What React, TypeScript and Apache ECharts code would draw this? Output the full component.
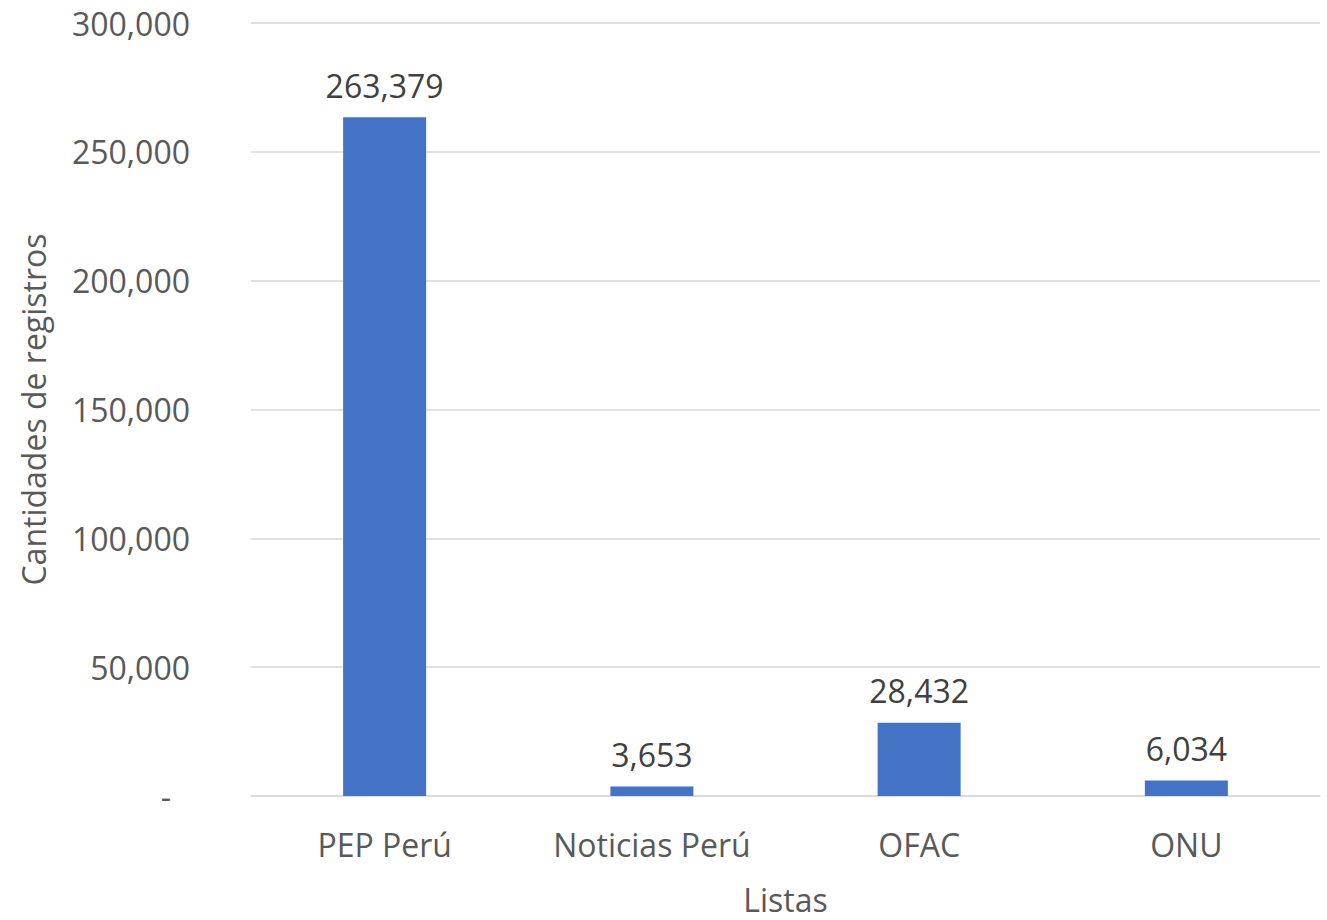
import React, { useEffect, useRef } from "react";
import * as echarts from "echarts";

const categories = ["PEP Perú", "Noticias Perú", "OFAC", "ONU"];
const values = [263379, 3653, 28432, 6034];
const yTicks = { min: 0, max: 300000, interval: 50000 };

const FONT = "'Open Sans', 'Noto Sans', sans-serif";
const FS = 32;

export default function App() {
  const ref = useRef<HTMLDivElement>(null);
  useEffect(() => {
    if (!ref.current) return;
    const chart = echarts.init(ref.current, undefined, { renderer: "svg" });
    chart.setOption({
      animation: false,
      backgroundColor: "#ffffff",
      grid: { left: 251, right: 7, top: 23, bottom: 118 },
      xAxis: {
        type: "category",
        data: categories,
        name: "Listas",
        nameLocation: "middle",
        nameGap: 87,
        nameTextStyle: { fontFamily: FONT, fontSize: FS, color: "#595959" },
        axisLine: { lineStyle: { color: "#d9d9d9", width: 1.5 } },
        axisTick: { show: false },
        axisLabel: { fontFamily: FONT, fontSize: FS, color: "#595959", margin: 32 },
      },
      yAxis: {
        type: "value",
        min: yTicks.min,
        max: yTicks.max,
        interval: yTicks.interval,
        name: "Cantidades de registros",
        nameLocation: "middle",
        nameGap: 202,
        nameTextStyle: { fontFamily: FONT, fontSize: FS, color: "#595959" },
        axisLine: { show: false },
        axisTick: { show: false },
        splitLine: { lineStyle: { color: "#d9d9d9", width: 1.5 } },
        axisLabel: {
          fontFamily: FONT,
          fontSize: FS,
          color: "#595959",
          margin: 61,
          formatter: (v: number) => (v === 0 ? "{d|-}" : v.toLocaleString("en-US")),
          rich: {
            d: { fontFamily: FONT, fontSize: FS, color: "#595959", padding: [0, 19, 0, 0] },
          },
        },
      },
      series: [
        {
          type: "bar",
          data: values,
          barWidth: 83,
          itemStyle: { color: "#4472C4" },
          label: {
            show: true,
            position: "top",
            distance: 16,
            fontFamily: FONT,
            fontSize: FS,
            color: "#404040",
            formatter: (p: any) => Number(p.value).toLocaleString("en-US"),
          },
        },
      ],
    });
    return () => chart.dispose();
  }, []);
  return (
    <div
      ref={ref}
      style={{ position: "fixed", left: 0, top: 0, width: 1327, height: 920, background: "#fff" }}
    />
  );
}
